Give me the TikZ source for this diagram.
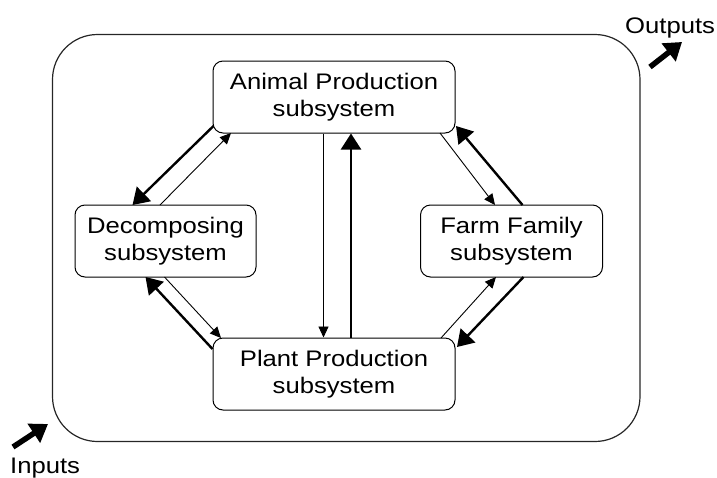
\documentclass[tikz,border=0pt]{standalone}
\usepackage{fontspec}
\setmainfont{Liberation Sans}[FakeStretch=1.14]
\usetikzlibrary{arrows.meta}
\begin{document}
\begin{tikzpicture}[x=1pt,y=-1pt,
  box/.style={draw,line width=1pt,rounded corners=10pt,align=center,inner sep=0pt,
     font=\fontsize{22.5}{27}\selectfont},
  thinarr/.style={line width=0.9pt,-{Triangle[length=11pt,width=10pt]}},
  thickarr/.style={line width=2.4pt,-{Triangle[length=16pt,width=20pt]}},
  bigarr/.style={line width=5.5pt,-{Triangle[length=17pt,width=22pt]}},
  lbl/.style={font=\fontsize{22.5}{26}\selectfont,inner sep=0pt}]
\useasboundingbox (0,0) rectangle (717,477);
\draw[line width=1.2pt,black!85,rounded corners=45pt] (52.5,34.5) rectangle (640,441.5);
\node[box,minimum width=242pt,minimum height=72pt] (animal) at (334,97) {Animal Production\\subsystem};
\node[box,minimum width=181pt,minimum height=72pt] (decomp) at (165.5,241) {Decomposing\\subsystem};
\node[box,minimum width=182pt,minimum height=72pt] (farm) at (511.5,241) {Farm Family\\subsystem};
\node[box,minimum width=242pt,minimum height=72pt] (plant) at (334,374) {Plant Production\\subsystem};
% vertical
\draw[thinarr] (animal.south -| 323.5,0) -- (plant.north -| 323.5,0);
\draw[thickarr] (plant.north -| 351,0) -- (animal.south -| 351,0);
% left top
\coordinate (a1) at (213.5,126);
\coordinate (d1) at (132.5,205);
\coordinate (d2) at (160,205);
\coordinate (a2) at (231,133);
\draw[thickarr] (a1) -- (d1);
\draw[thinarr] (d2) -- (a2);
% left bottom
\coordinate (p1) at (212.5,349);
\coordinate (d3) at (145.5,277);
\coordinate (d4) at (164.5,277);
\coordinate (p2) at (221,338);
\draw[thickarr] (p1) -- (d3);
\draw[thinarr] (d4) -- (p2);
% right top
\coordinate (a3) at (440,133);
\coordinate (f1) at (495,205);
\coordinate (f2) at (522.5,205);
\coordinate (a4) at (456,126);
\draw[thinarr] (a3) -- (f1);
\draw[thickarr] (f2) -- (a4);
% right bottom
\coordinate (p3) at (441,338);
\coordinate (f3) at (496,277);
\coordinate (f4) at (523.5,277);
\coordinate (p4) at (457,347);
\draw[thinarr] (p3) -- (f3);
\draw[thickarr] (f4) -- (p4);
% outputs / inputs
\node[lbl,anchor=base west] (out) at (625,33) {Outputs};
\coordinate (ot) at (650,67);
\coordinate (oh) at (682,42);
\draw[bigarr] (ot) -- (oh);
\node[lbl,anchor=base west] (in) at (10,473) {Inputs};
\coordinate (it) at (13,447);
\coordinate (ih) at (48,424);
\draw[bigarr] (it) -- (ih);
\end{tikzpicture}
\end{document}
